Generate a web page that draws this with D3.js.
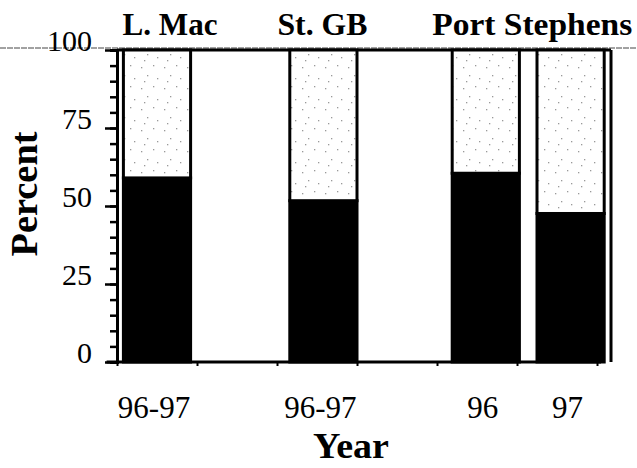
<!DOCTYPE html>
<html>
<head>
<meta charset="utf-8">
<script src="https://cdn.jsdelivr.net/npm/d3@7"></script>
<style>
  html, body { margin: 0; padding: 0; background: #fff; }
  svg { display: block; }
  text { font-family: "Liberation Serif", "Times New Roman", serif; fill: #000; }
</style>
</head>
<body>
<script>
// ---------- data ----------
const categories = ["L. Mac 96-97", "St. GB 96-97", "Port Stephens 96", "Port Stephens 97"];
const groups = ["L. Mac", "St. GB", "Port Stephens"];
const groupOfCategory = ["L. Mac", "St. GB", "Port Stephens", "Port Stephens"];
const yearLabels = ["96-97", "96-97", "96", "97"];
const blackSeries = [59, 51.7, 60.5, 47.6];          // lower (solid) part, percent
const stippleSeries = [41, 48.3, 39.5, 52.4];        // upper (stippled) part, percent
const yTicks = [0, 25, 50, 75, 100];

// ---------- layout (not data) ----------
const W = 637, H = 468;
const slotCenter = d3.scaleOrdinal(categories, [0.5, 2.58, 4.61, 5.67]); // in x-scale units
const barW = 0.84;
const x = d3.scaleLinear([0, 6], [117, 597]);
const y = d3.scaleLinear([0, 100], [362, 50]);

const svg = d3.select("body").append("svg").attr("width", W).attr("height", H);

// stipple pattern (sparse grey dots)
const defs = svg.append("defs");
const pat = defs.append("pattern").attr("id", "stip").attr("patternUnits", "userSpaceOnUse")
  .attr("width", 23).attr("height", 21);
pat.append("rect").attr("width", 23).attr("height", 21).attr("fill", "#fff");
[[3,4],[15,2],[9,12],[19,15],[6,18]].forEach(([a,b]) =>
  pat.append("rect").attr("x", a).attr("y", b).attr("width", 1.3).attr("height", 1.3).attr("fill", "#999"));

// scan border line across the top
svg.append("line").attr("x1", 0).attr("x2", W).attr("y1", 48).attr("y2", 48)
  .attr("stroke", "#444").attr("stroke-width", 1).attr("stroke-dasharray", "6,1");

// plot frame (top & right)
svg.append("line").attr("x1", x(0)).attr("x2", 611).attr("y1", y(100)).attr("y2", y(100))
  .attr("stroke", "#000").attr("stroke-width", 3);
svg.append("line").attr("x1", 611).attr("x2", 611).attr("y1", y(100)).attr("y2", y(0))
  .attr("stroke", "#000").attr("stroke-width", 3);

// stacked data
const stackData = categories.map((c, i) => ({ cat: c, black: blackSeries[i], stip: stippleSeries[i] }));
const stacked = d3.stack().keys(["black", "stip"])(stackData);
const fills = { black: "#000", stip: "url(#stip)" };

stacked.forEach(layer => {
  svg.append("g").selectAll("rect").data(layer).join("rect")
    .attr("x", d => x(slotCenter(d.data.cat) - barW / 2))
    .attr("width", d => x(barW) - x(0))
    .attr("y", d => y(d[1]))
    .attr("height", d => y(d[0]) - y(d[1]))
    .attr("fill", fills[layer.key])
    .attr("stroke", "#000").attr("stroke-width", 3);
});

// y axis
const yAxisMinor = d3.axisLeft(y).tickValues(d3.range(0, 101, 5)).tickSize(7).tickFormat("");
svg.append("g").attr("transform", `translate(${x(0)},0)`).call(yAxisMinor)
  .call(g => g.selectAll("line").attr("stroke-width", 2.5))
  .call(g => g.select(".domain").attr("stroke-width", 3));
const yAxisMajor = d3.axisLeft(y).tickValues(yTicks).tickSize(12).tickPadding(13);
svg.append("g").attr("transform", `translate(${x(0)},0)`).call(yAxisMajor)
  .call(g => g.select(".domain").remove())
  .call(g => g.selectAll("line").attr("stroke-width", 2.5))
  .call(g => g.selectAll("text").attr("font-size", 30).attr("dy", 0)
      .attr("font-family", "Liberation Serif, serif").attr("fill", "#000"));

// x axis
const xAxis = d3.axisBottom(x).tickValues(d3.range(0, 7, 1)).tickSize(4).tickFormat("");
svg.append("g").attr("transform", `translate(0,${y(0)})`).call(xAxis)
  .call(g => g.select(".domain").attr("stroke-width", 3).attr("d", `M${x(-0.13)},0H${x(6.05)}`))
  .call(g => g.selectAll("line").attr("stroke-width", 2));

// year labels
svg.append("g").selectAll("text").data(categories).join("text")
  .attr("x", d => x(slotCenter(d)) - 3)
  .attr("y", 418)
  .attr("text-anchor", "middle")
  .attr("font-size", 31)
  .text((d, i) => yearLabels[i]);

// group labels
const groupCenter = g => {
  const idx = groupOfCategory.map((v, i) => v === g ? i : -1).filter(i => i >= 0);
  return (x(slotCenter(categories[idx[0]]) - barW / 2) + x(slotCenter(categories[idx[idx.length - 1]]) + barW / 2)) / 2;
};
const groupNudge = { "L. Mac": 13, "St. GB": -1, "Port Stephens": 4 };
const groupLen = { "L. Mac": 95, "St. GB": 90, "Port Stephens": 200 };
svg.append("g").selectAll("text").data(groups).join("text")
  .attr("x", d => groupCenter(d) + groupNudge[d])
  .attr("y", 35)
  .attr("text-anchor", "middle")
  .attr("font-size", 32).attr("font-weight", "bold")
  .attr("textLength", d => groupLen[d]).attr("lengthAdjust", "spacingAndGlyphs")
  .text(d => d);

// axis titles
svg.append("text").attr("x", 351).attr("y", 458).attr("text-anchor", "middle")
  .attr("font-size", 36).attr("font-weight", "bold").attr("textLength", 76)
  .attr("lengthAdjust", "spacingAndGlyphs").text("Year");
svg.append("text").attr("transform", "translate(37,194) rotate(-90)").attr("text-anchor", "middle")
  .attr("font-size", 37).attr("font-weight", "bold").attr("textLength", 125)
  .attr("lengthAdjust", "spacingAndGlyphs").text("Percent");
</script>
</body>
</html>
